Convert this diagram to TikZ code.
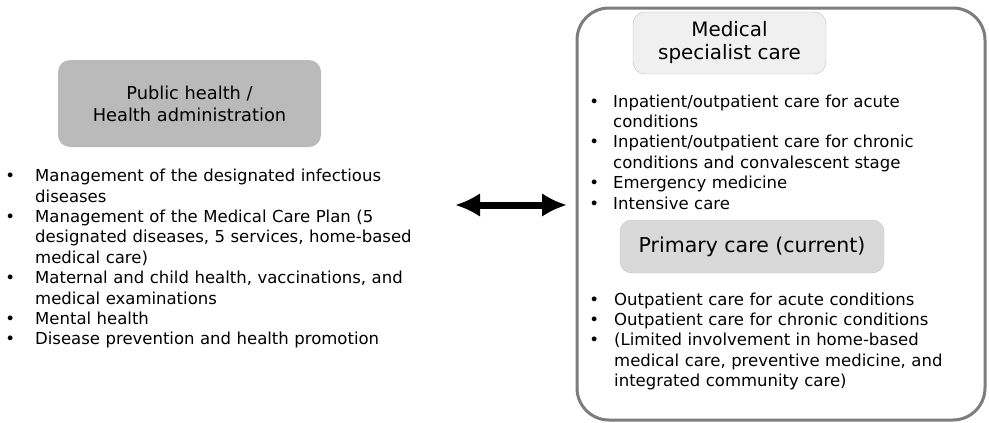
\documentclass[tikz,border=0pt]{standalone}
\usepackage{fontspec}
\setmainfont{DejaVu Sans}
\usepackage{tikz}
\usetikzlibrary{arrows.meta}

\definecolor{pubfill}{RGB}{186,186,186}
\definecolor{medfill}{RGB}{240,240,240}
\definecolor{primfill}{RGB}{217,217,217}
\definecolor{boxline}{RGB}{190,190,190}
\definecolor{outerline}{RGB}{125,125,125}

\newenvironment{bulletlist}[2]{%
  \begin{list}{\textbullet}{\setlength{\leftmargin}{#1}\setlength{\labelsep}{#2}%
    \setlength{\labelwidth}{10pt}\setlength{\itemsep}{0pt}\setlength{\parsep}{0pt}%
    \setlength{\topsep}{0pt}\setlength{\partopsep}{0pt}}}%
  {\end{list}}

\tikzset{
  titlebox/.style={rounded corners=12pt, align=center, inner sep=0pt},
  listtext/.style={anchor=north west, inner sep=0pt, align=left,
    font=\fontsize{16.5}{20.4}\selectfont}
}

\begin{document}
\begin{tikzpicture}[x=1pt, y=-1pt]

    \useasboundingbox (0,0) rectangle (989,423);

    % Outer frame
    \draw[outerline, line width=3pt, rounded corners=32pt]
        (577,8) rectangle (985,420);

    % Public health side
    \node[titlebox, fill=pubfill, minimum width=263pt, minimum height=87pt,
          font=\fontsize{17.8}{22}\selectfont] (pubhealth) at (189.5,103.5)
        {Public health /\\Health administration};

    \node[listtext, text width=430pt] (publist) at (5,161) {%
      \begin{bulletlist}{30pt}{20pt}
      \item Management of the designated infectious\\diseases
      \item Management of the Medical Care Plan (5\\designated diseases, 5 services, home-based\\medical care)
      \item Maternal and child health, vaccinations, and\\medical examinations
      \item Mental health
      \item Disease prevention and health promotion
      \end{bulletlist}};

    % Medical specialist care
    \node[titlebox, fill=medfill, draw=boxline, minimum width=193pt, minimum height=62pt,
          font=\fontsize{19.9}{23}\selectfont] (medspec) at (729.5,43)
        {Medical\\specialist care};

    \node[listtext, text width=390pt] (medlist) at (583,86.5) {%
      \begin{bulletlist}{30pt}{14pt}
      \item Inpatient/outpatient care for acute\\conditions
      \item Inpatient/outpatient care for chronic\\conditions and convalescent stage
      \item Emergency medicine
      \item Intensive care
      \end{bulletlist}};

    % Primary care
    \node[titlebox, fill=primfill, draw=boxline, minimum width=264pt, minimum height=53pt,
          font=\fontsize{20.5}{24}\selectfont] (primary) at (752,246.5)
        {Primary care (current)};

    \node[listtext, text width=390pt] (primlist) at (583,284.5) {%
      \begin{bulletlist}{31pt}{15pt}
      \item Outpatient care for acute conditions
      \item Outpatient care for chronic conditions
      \item (Limited involvement in home-based\\medical care, preventive medicine, and\\integrated community care)
      \end{bulletlist}};

    % Two-way arrow
    \coordinate (arrowL) at (455,205);
    \coordinate (arrowR) at (567,205);
    \draw[line width=7pt, {Latex[length=25pt, width=24pt]}-{Latex[length=25pt, width=24pt]}]
        (arrowL) -- (arrowR);

\end{tikzpicture}
\end{document}
